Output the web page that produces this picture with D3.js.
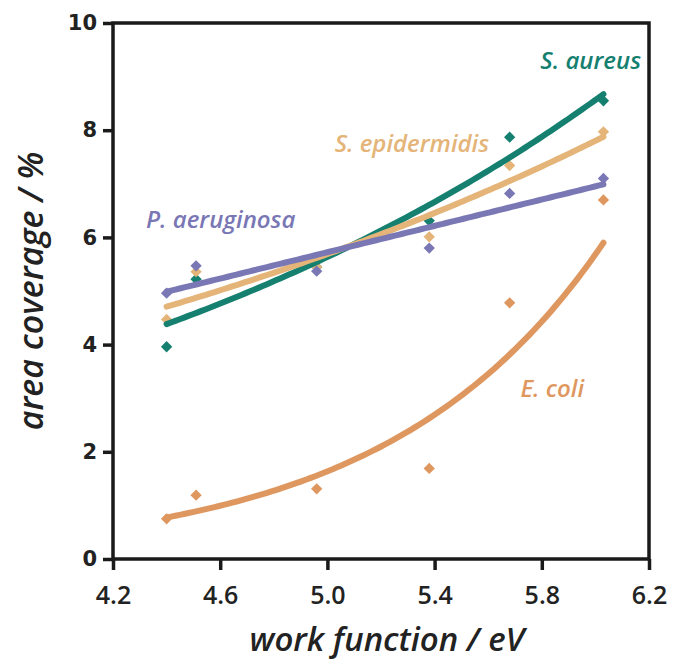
<!DOCTYPE html>
<html>
<head>
<meta charset="utf-8">
<script src="https://cdn.jsdelivr.net/npm/d3@7"></script>
<style>
  html, body { margin: 0; padding: 0; background: #fff; }
  svg { display: block; }
</style>
</head>
<body>
<div id="chart"></div>
<script>
// ---- data ----
const workFunction = [4.40, 4.51, 4.96, 5.38, 5.68, 6.03];
const sAureus      = [3.96, 5.22, 5.45, 6.31, 7.87, 8.55];
const sEpidermidis = [4.47, 5.36, 5.45, 6.01, 7.34, 7.97];
const pAeruginosa  = [4.96, 5.47, 5.37, 5.80, 6.82, 7.10];
const eColi        = [0.75, 1.19, 1.31, 1.69, 4.78, 6.70];

const seriesNames = ["S. aureus", "S. epidermidis", "P. aeruginosa", "E. coli"];
const fitTypes    = ["exp", "exp", "linear", "exp"];
const xTicks = [4.2, 4.6, 5.0, 5.4, 5.8, 6.2];
const yTicks = [0, 2, 4, 6, 8, 10];

// ---- layout / style ----
const W = 673, H = 663;
const margin = { left: 113, right: 24, top: 23, bottom: 104 };
const colors = ["#15806f", "#e4b478", "#7a77b5", "#df9760"];
const labelPos = [
  { x: 641, y: 69, anchor: "end" },
  { x: 489, y: 152, anchor: "end" },
  { x: 146, y: 228, anchor: "start" },
  { x: 584, y: 397, anchor: "end" }
];

const series = [sAureus, sEpidermidis, pAeruginosa, eColi];

const svg = d3.select("#chart").append("svg").attr("width", W).attr("height", H);

const x = d3.scaleLinear().domain([4.2, 6.2]).range([margin.left, W - margin.right]);
const y = d3.scaleLinear().domain([0, 10]).range([H - margin.bottom, margin.top]);

// regression fits (Excel-style trendlines)
function linFit(xs, ys) {
  const mx = d3.mean(xs), my = d3.mean(ys);
  let sxy = 0, sxx = 0;
  xs.forEach((v, i) => { sxy += (v - mx) * (ys[i] - my); sxx += (v - mx) ** 2; });
  const b = sxy / sxx, a = my - b * mx;
  return { a, b };
}
function fitFn(type, xs, ys) {
  if (type === "linear") { const f = linFit(xs, ys); return v => f.a + f.b * v; }
  const f = linFit(xs, ys.map(Math.log));
  return v => Math.exp(f.a + f.b * v);
}

const line = d3.line().x(d => x(d[0])).y(d => y(d[1]));

const xMin = d3.min(workFunction), xMax = d3.max(workFunction);
const samples = d3.range(0, 101).map(i => xMin + (xMax - xMin) * i / 100);

// markers
series.forEach((vals, si) => {
  svg.append("g").selectAll("path")
    .data(workFunction.map((w, i) => [w, vals[i]]))
    .join("path")
    .attr("d", d3.symbol().type(d3.symbolSquare).size(64))
    .attr("transform", d => `translate(${x(d[0])},${y(d[1])}) rotate(45)`)
    .attr("fill", colors[si]);
});
// trend lines
series.forEach((vals, si) => {
  const f = fitFn(fitTypes[si], workFunction, vals);
  svg.append("path")
    .datum(samples.map(v => [v, f(v)]))
    .attr("d", line)
    .attr("fill", "none")
    .attr("stroke", colors[si])
    .attr("stroke-width", 6)
    .attr("stroke-linecap", "round");
});

// frame
svg.append("rect")
  .attr("x", margin.left).attr("y", margin.top)
  .attr("width", W - margin.right - margin.left)
  .attr("height", H - margin.bottom - margin.top)
  .attr("fill", "none").attr("stroke", "#1a1a1a").attr("stroke-width", 3.5);

// axes
const xAxis = svg.append("g")
  .attr("transform", `translate(0,${H - margin.bottom})`)
  .call(d3.axisBottom(x).tickValues(xTicks).tickFormat(d3.format(".1f")).tickSize(11).tickPadding(16));
const yAxis = svg.append("g")
  .attr("transform", `translate(${margin.left},0)`)
  .call(d3.axisLeft(y).tickValues(yTicks).tickFormat(d3.format("d")).tickSize(10).tickPadding(6));

[xAxis, yAxis].forEach(g => {
  g.select(".domain").remove();
  g.selectAll(".tick line").attr("stroke", "#1a1a1a").attr("stroke-width", 3.5);
});
xAxis.selectAll(".tick text")
  .attr("font-family", "'Open Sans', sans-serif").attr("font-weight", 600)
  .attr("font-size", 25).attr("fill", "#222");
yAxis.selectAll(".tick text")
  .attr("font-family", "'DejaVu Sans', sans-serif").attr("font-weight", 700)
  .attr("font-size", 21).attr("fill", "#222");

// axis titles
svg.append("text")
  .attr("x", 387).attr("y", 651)
  .attr("text-anchor", "middle")
  .attr("font-family", "'Open Sans', sans-serif").attr("font-weight", 600)
  .attr("font-style", "italic").attr("font-size", 33).attr("fill", "#222")
  .text("work function / eV");
svg.append("text")
  .attr("transform", `translate(43,${(margin.top + H - margin.bottom) / 2}) rotate(-90)`)
  .attr("text-anchor", "middle")
  .attr("font-family", "'Open Sans', sans-serif").attr("font-weight", 600)
  .attr("font-style", "italic").attr("font-size", 34).attr("fill", "#222")
  .text("area coverage / %");

// series labels
seriesNames.forEach((name, i) => {
  svg.append("text")
    .attr("x", labelPos[i].x).attr("y", labelPos[i].y)
    .attr("text-anchor", labelPos[i].anchor)
    .attr("font-family", "'Open Sans', sans-serif").attr("font-weight", 600)
    .attr("font-style", "italic").attr("font-size", 24)
    .attr("fill", colors[i])
    .text(name);
});
</script>
</body>
</html>
